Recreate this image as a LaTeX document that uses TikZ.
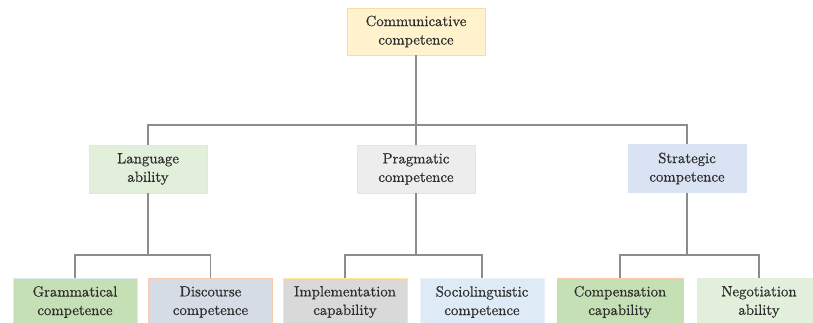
\documentclass[tikz,border=0pt]{standalone}
\usepackage{fontspec}
\newfontfamily\boxfont[FakeBold=0.6]{lmroman10-regular.otf}
\definecolor{linegray}{HTML}{8C8C8C}
\definecolor{txt}{HTML}{2E2E2E}
\definecolor{fTop}{HTML}{FFF2CC}\definecolor{dTop}{HTML}{F6DDA8}
\definecolor{fLang}{HTML}{E2EFDA}\definecolor{dYel}{HTML}{FFE699}
\definecolor{fPrag}{HTML}{EDEDED}
\definecolor{fStrat}{HTML}{DAE3F3}
\definecolor{fGram}{HTML}{C5E0B4}\definecolor{dBlue}{HTML}{DEEBF7}
\definecolor{fDisc}{HTML}{D6DCE5}\definecolor{dPeach}{HTML}{F8CBAD}
\definecolor{fImpl}{HTML}{D9D9D9}
\definecolor{fSoc}{HTML}{DEEBF7}\definecolor{dSoc}{HTML}{EAF2FA}
\definecolor{fNeg}{HTML}{E2EFDA}
\tikzset{
  box/.style={rectangle, line width=0.8pt, inner sep=0pt, align=center, text=txt,
    font=\boxfont\fontsize{14.8}{18.5}\selectfont},
  lvlA/.style={box, minimum width=138pt, minimum height=47pt},
  lvlB/.style={box, minimum width=118pt, minimum height=48pt},
  lvlC/.style={box, minimum width=124pt, minimum height=47pt},
  conn/.style={draw=linegray, line width=1.4pt},
}
\begin{document}
\begin{tikzpicture}[x=1pt,y=1pt]
\useasboundingbox (0,0) rectangle (813,-322);
\clip (0,0) rectangle (813,-322);
\fill[white] (0,0) rectangle (813,-322);
% nodes
\node[lvlA, fill=fTop, draw=dTop] (top) at (416,-31.5) {Communicative\\competence};
\node[lvlB, fill=fLang, draw=dYel] (lang) at (148,-169) {Language\\ability};
\node[lvlB, fill=fPrag, draw=dYel] (prag) at (416,-169) {Pragmatic\\competence};
\node[lvlB, fill=fStrat, draw=fStrat] (strat) at (687,-168.5) {Strategic\\competence};
\node[lvlC, fill=fGram, draw=dBlue] (gram) at (75,-302) {Grammatical\\competence};
\node[lvlC, fill=fDisc, draw=dPeach] (disc) at (210.5,-302) {Discourse\\competence};
\node[lvlC, fill=fImpl, draw=dYel] (impl) at (345,-302) {Implementation\\capability};
\node[lvlC, fill=fSoc, draw=dSoc] (soc) at (482,-302) {Sociolinguistic\\competence};
\node[lvlC, fill=fGram, draw=dPeach, minimum width=126pt] (comp) at (620,-302) {Compensation\\capability};
\node[lvlC, fill=fNeg, draw=fNeg] (neg) at (759,-302) {Negotiation\\ability};
% buses
\coordinate (busA) at (416,-125);
\coordinate (busL) at (148,-255);
\coordinate (busP) at (416,-255);
\coordinate (busS) at (687,-255);
% connectors
\draw[conn] (top.south) -- (busA);
\draw[conn] (busA) -| (lang.north);
\draw[conn] (busA) -| (strat.north);
\draw[conn] (busA) -- (prag.north);
\draw[conn] (lang.south) -- (busL);
\draw[conn] (busL) -| (gram.north);
\draw[conn] (busL) -| (disc.north);
\draw[conn] (prag.south) -- (busP);
\draw[conn] (busP) -| (impl.north);
\draw[conn] (busP) -| (soc.north);
\draw[conn] (strat.south) -- (busS);
\draw[conn] (busS) -| (comp.north);
\draw[conn] (busS) -| (neg.north);
\end{tikzpicture}
\end{document}
